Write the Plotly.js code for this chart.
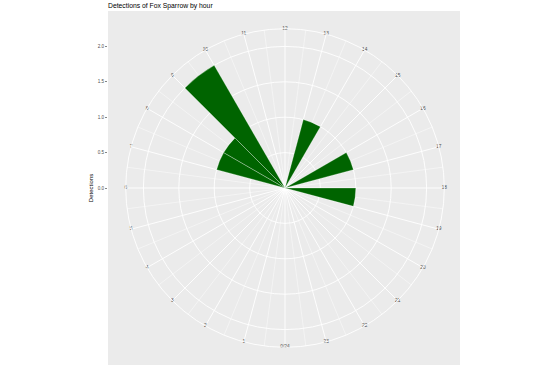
<!DOCTYPE html>
<html>
<head>
<meta charset="utf-8">
<script src="https://cdn.plot.ly/plotly-3.0.1.min.js"></script>
<style>html,body{margin:0;padding:0;background:#fff}#chart{width:553px;height:379px}</style>
</head>
<body>
<div id="chart"></div>
<script>
// ---- data ----
const hours = [0,1,2,3,4,5,6,7,8,9,10,11,12,13,14,15,16,17,18,19,20,21,22,23];
const detections = [0,0,0,0,0,0,0,1,1,2,0,0,0,1,0,0,1,0,1,0,0,0,0,0];
const hourLabels = ['0/24','1','2','3','4','5','6','7','8','9','10','11','12','13','14','15','16','17','18','19','20','21','22','23'];
const rBreaks = [0, 0.5, 1, 1.5, 2];
const rLabels = ['0.0','0.5','1.0','1.5','2.0'];
const titleText = 'Detections of Fox Sparrow by hour';
const yTitle = 'Detections';

// ---- scales ----
const DEG_PER_HOUR = 360 / 24;
const rMax = 2.25;           // outer circle (ggplot 0.45 vs data 0.4)
const barTheta = hours.map(h => (h + 0.5) * DEG_PER_HOUR);
const majorTheta = hours.map(h => h * DEG_PER_HOUR);
const minorTheta = hours.map(h => (h + 0.5) * DEG_PER_HOUR);

const FONT = 'Liberation Sans, Arial, Helvetica, sans-serif';
const GRID = '#FFFFFF';
const PANEL = '#EBEBEB';

const polarDomain = {x: [0.0503, 0.9554], y: [0.05, 0.95]};

const traces = [
  {type: 'scatter', x: [], y: [], xaxis: 'x', yaxis: 'y', hoverinfo: 'skip', showlegend: false},
  {type: 'scatterpolar', subplot: 'polar', r: [], theta: [], mode: 'markers', hoverinfo: 'skip', showlegend: false},
  {
    type: 'barpolar', subplot: 'polar2',
    r: detections, theta: barTheta, width: hours.map(() => DEG_PER_HOUR),
    marker: {color: '#006400', line: {color: 'rgba(255,255,255,0.55)', width: 0.5}},
    hoverinfo: 'skip', showlegend: false
  },
  {
    type: 'scatterpolar', subplot: 'polar2', mode: 'text',
    r: hours.map(() => rMax), theta: majorTheta, text: hourLabels,
    textposition: 'middle center', cliponaxis: false,
    textfont: {family: FONT, size: 4.8, color: '#4D4D4D'},
    hoverinfo: 'skip', showlegend: false
  }
];

const layout = {
  width: 553, height: 379,
  margin: {l: 108, r: 93, t: 11, b: 14, pad: 0},
  paper_bgcolor: '#FFFFFF',
  plot_bgcolor: PANEL,
  showlegend: false,
  font: {family: FONT, color: '#000000'},
  title: {
    text: titleText, xref: 'container', yref: 'container',
    x: 108 / 553, xanchor: 'left', y: 1 - 5.7 / 379, yanchor: 'middle',
    font: {family: FONT, size: 6.8, color: '#000000'}
  },
  xaxis: {visible: false, range: [0, 1], fixedrange: true},
  yaxis: {
    range: [-2.5, 2.5], tickmode: 'array', tickvals: rBreaks, ticktext: rLabels,
    ticks: 'outside', ticklen: 2, tickwidth: 0.6, tickcolor: '#333333',
    tickfont: {family: FONT, size: 4.6, color: '#4D4D4D'},
    showgrid: false, zeroline: false, showline: false, fixedrange: true,
    title: {text: yTitle, standoff: 3, font: {family: FONT, size: 6, color: '#000000'}}
  },
  polar: {
    domain: polarDomain,
    bgcolor: PANEL,
    angularaxis: {
      rotation: 270, direction: 'clockwise', thetaunit: 'degrees',
      tickmode: 'array', tickvals: minorTheta, showticklabels: false, ticks: '',
      showline: false, showgrid: true, gridcolor: GRID, gridwidth: 0.45
    },
    radialaxis: {
      range: [0, rMax], showgrid: false, showline: false, showticklabels: false, ticks: ''
    }
  },
  polar2: {
    domain: polarDomain,
    bgcolor: 'rgba(0,0,0,0)',
    angularaxis: {
      rotation: 270, direction: 'clockwise', thetaunit: 'degrees',
      tickmode: 'array', tickvals: majorTheta, showticklabels: false, ticks: '',
      showline: true, linecolor: GRID, linewidth: 0.9,
      showgrid: true, gridcolor: GRID, gridwidth: 0.9
    },
    radialaxis: {
      range: [0, rMax], tickmode: 'array', tickvals: rBreaks,
      showgrid: true, gridcolor: GRID, gridwidth: 0.9,
      showline: false, showticklabels: false, ticks: ''
    }
  }
};

Plotly.newPlot('chart', traces, layout, {displayModeBar: false, staticPlot: true});
</script>
</body>
</html>
